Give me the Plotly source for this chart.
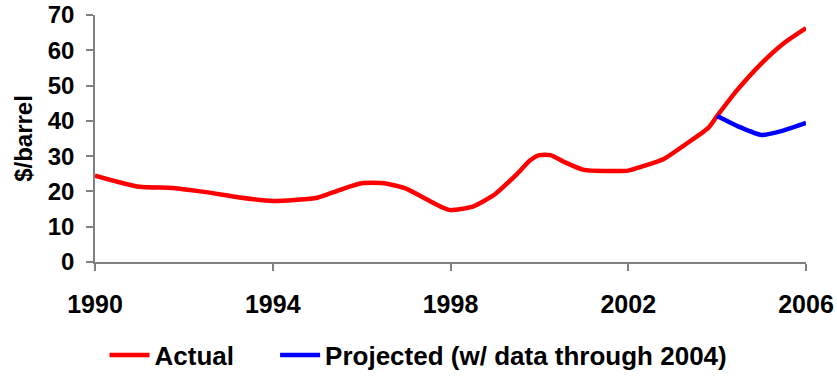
import plotly.graph_objects as go

actual_years = [1990, 1991, 1991.75, 1992.5, 1993.25, 1994, 1994.5, 1995, 1995.5, 1996,
                1996.5, 1997, 1997.5, 1997.85, 1998, 1998.5, 1999, 1999.5, 1999.8, 2000,
                2000.25, 2000.55, 2001, 2001.5, 2002, 2002.3, 2002.8, 2003.25, 2003.8, 2004,
                2004.45, 2005, 2005.5, 2006]
actual_values = [24.5, 21.3, 21.0, 19.8, 18.3, 17.3, 17.6, 18.2, 20.4, 22.3,
                 22.3, 20.8, 17.5, 15.3, 14.7, 15.7, 19.2, 25.0, 28.9, 30.3,
                 30.3, 28.4, 26.1, 25.8, 25.9, 27.0, 29.2, 33.0, 38.0, 41.4,
                 48.7, 56.3, 62.0, 66.3]

proj_years = [2004, 2004.5, 2005, 2005.5, 2006]
proj_values = [41.4, 38.3, 36.0, 37.3, 39.4]

x_ticks = [1990, 1994, 1998, 2002, 2006]
y_ticks = [0, 10, 20, 30, 40, 50, 60, 70]

FONT = "Liberation Sans, Arial, sans-serif"

fig = go.Figure()
fig.add_trace(go.Scatter(x=actual_years, y=actual_values, mode="lines",
                         name="<b>Actual</b>" + "&nbsp;" * 5,
                         line=dict(color="#FF0000", width=4.5, shape="spline", smoothing=0.6)))
fig.add_trace(go.Scatter(x=proj_years, y=proj_values, mode="lines",
                         name="<b>Projected (w/ data through 2004)</b>",
                         line=dict(color="#0000FF", width=4.5, shape="spline", smoothing=0.6)))

fig.update_layout(
    width=837, height=377,
    margin=dict(l=95, r=31, t=15, b=115),
    paper_bgcolor="white", plot_bgcolor="white",
    font=dict(family=FONT, color="black"),
    showlegend=True,
    legend=dict(orientation="h", xref="container", yref="container", x=0.5, xanchor="center",
                y=0.058, yanchor="middle", font=dict(size=26, family=FONT, color="black"),
                itemwidth=40, tracegroupgap=0),
    xaxis=dict(range=[1990, 2006], tickvals=x_ticks, ticktext=[f"<b>{t}</b>" for t in x_ticks],
               showgrid=False, zeroline=False, showline=True, linecolor="#808080", linewidth=1.5,
               ticks="outside", ticklen=7, tickcolor="#808080", tickwidth=1.5, automargin=False,
               tickfont=dict(size=25, family=FONT, color="black"), ticklabelstandoff=12),
    yaxis=dict(range=[0, 70], tickvals=y_ticks, ticktext=[f"<b>{t}</b>" for t in y_ticks],
               showgrid=False, zeroline=False, showline=True, linecolor="#808080", linewidth=1.5,
               ticks="outside", ticklen=7, tickcolor="#808080", tickwidth=1.5, automargin=False,
               tickfont=dict(size=24, family=FONT, color="black"), ticklabelstandoff=7,
               title=dict(text="<b>$/barrel</b>", font=dict(size=24, family=FONT, color="black"),
                          standoff=8)),
)

fig.write_html("out.html")
